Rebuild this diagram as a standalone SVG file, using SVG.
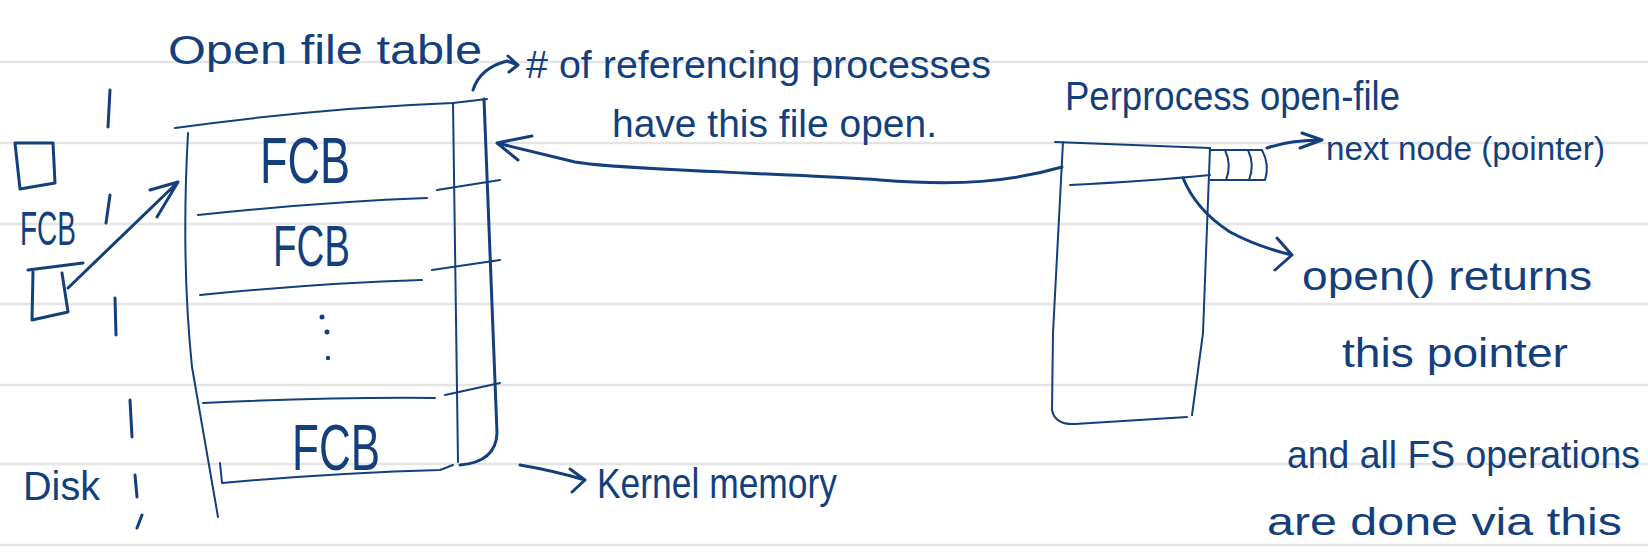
<svg xmlns="http://www.w3.org/2000/svg" width="1648" height="555" viewBox="0 0 1648 555">
<style>
.rule{stroke:#e4e4e4;stroke-width:2.5}
.ink{stroke:#143f7d;fill:none;stroke-width:3;stroke-linecap:round;stroke-linejoin:round}
.thin{stroke-width:2}
.hw{font-family:"Liberation Sans",Arial,sans-serif;fill:#143f7d}
.dot{fill:#143f7d}
</style>
<rect width="1648" height="555" fill="#ffffff"/>
<g id="ruled-lines">
<line class="rule" x1="0" y1="62" x2="1648" y2="62"/>
<line class="rule" x1="0" y1="143" x2="1648" y2="143"/>
<line class="rule" x1="0" y1="224" x2="1648" y2="224"/>
<line class="rule" x1="0" y1="304" x2="1648" y2="304"/>
<line class="rule" x1="0" y1="385" x2="1648" y2="385"/>
<line class="rule" x1="0" y1="464" x2="1648" y2="464"/>
<line class="rule" x1="0" y1="545" x2="1648" y2="545"/>
</g>
<g id="disk-side">
<path class="ink" d="M15,143 L53,143 L55,183 L20,189 Z"/>
<text class="hw" x="20" y="245" font-size="48" textLength="56" lengthAdjust="spacingAndGlyphs">FCB</text>
<path class="ink" d="M28,270 L83,263 M33,272 L32,320 L68,312 L62,273"/>
<text class="hw" x="23" y="500" font-size="40" textLength="77" lengthAdjust="spacingAndGlyphs">Disk</text>
<path class="ink" d="M110,90 L108,127 M110,195 L106,223 M115,298 L116,335 M130,400 L132,437 M135,475 L137,497 M142,515 L137,528"/>
</g>
<g id="open-file-table">
<text class="hw" x="168" y="64" font-size="40" textLength="314" lengthAdjust="spacingAndGlyphs">Open file table</text>
<path class="ink thin" d="M175,128 Q320,108 453,103 L487,99"/>
<path class="ink thin" d="M188,133 Q181,260 192,367 L218,517"/>
<path class="ink thin" d="M453,103 L458,462"/>
<path class="ink" d="M484,99 L497,433 Q496,462 460,465"/>
<path class="ink thin" d="M198,215 Q320,202 427,198 M437,190 L500,180"/>
<path class="ink thin" d="M200,295 Q320,283 422,280 M432,270 L500,260"/>
<path class="ink thin" d="M203,403 Q330,397 435,398 M445,395 L500,383"/>
<path class="ink thin" d="M220,463 L222,483 Q333,473 440,470 L453,465"/>
<text class="hw" x="260" y="183" font-size="64" textLength="90" lengthAdjust="spacingAndGlyphs">FCB</text>
<text class="hw" x="273" y="266" font-size="58" textLength="77" lengthAdjust="spacingAndGlyphs">FCB</text>
<circle class="dot" cx="322" cy="317" r="2.5"/>
<circle class="dot" cx="327" cy="332" r="2.5"/>
<circle class="dot" cx="328" cy="358" r="2.2"/>
<text class="hw" x="292" y="470" font-size="64" textLength="88" lengthAdjust="spacingAndGlyphs">FCB</text>
</g>
<g id="ref-count-note">
<text class="hw" x="526" y="78" font-size="38" textLength="465" lengthAdjust="spacingAndGlyphs"># of referencing processes</text>
<text class="hw" x="612" y="137" font-size="38" textLength="325" lengthAdjust="spacingAndGlyphs">have this file open.</text>
</g>
<g id="kernel-note">
<text class="hw" x="597" y="498" font-size="42" textLength="240" lengthAdjust="spacingAndGlyphs">Kernel memory</text>
</g>
<g id="per-process-table">
<text class="hw" x="1065" y="110" font-size="40" textLength="335" lengthAdjust="spacingAndGlyphs">Perprocess open-file</text>
<path class="ink thin" d="M1055,142 L1210,148"/>
<path class="ink thin" d="M1063,142 L1053,333 L1052,410 Q1055,425 1075,424 L1187,417"/>
<path class="ink thin" d="M1210,148 L1203,333 L1192,415"/>
<path class="ink thin" d="M1070,185 Q1150,181 1210,175"/>
<path class="ink thin" d="M1210,150 L1262,150 Q1270,165 1265,180 L1210,180 M1225,150 Q1232,165 1226,180 M1248,150 Q1255,165 1249,180"/>
</g>
<g id="pointer-notes">
<text class="hw" x="1326" y="160" font-size="34" textLength="279" lengthAdjust="spacingAndGlyphs">next node (pointer)</text>
<text class="hw" x="1302" y="290" font-size="40" textLength="290" lengthAdjust="spacingAndGlyphs">open() returns</text>
<text class="hw" x="1342" y="367" font-size="40" textLength="226" lengthAdjust="spacingAndGlyphs">this pointer</text>
<text class="hw" x="1287" y="468" font-size="38" textLength="353" lengthAdjust="spacingAndGlyphs">and all FS operations</text>
<text class="hw" x="1267" y="535" font-size="38" textLength="355" lengthAdjust="spacingAndGlyphs">are done via this</text>
</g>
<g id="connectors">
<path class="ink" d="M68,288 L178,182 M150,190 L178,182 L157,217"/>
<path class="ink" d="M473,90 Q480,68 507,61 L518,65 M508,56 L518,65 L509,72"/>
<path class="ink" d="M1062,167 C1010,182 960,186 880,180 S620,170 575,162 L497,143 M532,136 L497,143 L518,160"/>
<path class="ink" d="M520,465 Q555,471 585,480 M570,469 L585,480 L572,492"/>
<path class="ink" d="M1267,148 Q1290,140 1322,140 M1302,133 L1322,140 L1300,148"/>
<path class="ink" d="M1183,178 Q1196,210 1230,232 Q1258,247 1292,255 M1277,238 L1292,255 L1275,270"/>
</g>
</svg>
